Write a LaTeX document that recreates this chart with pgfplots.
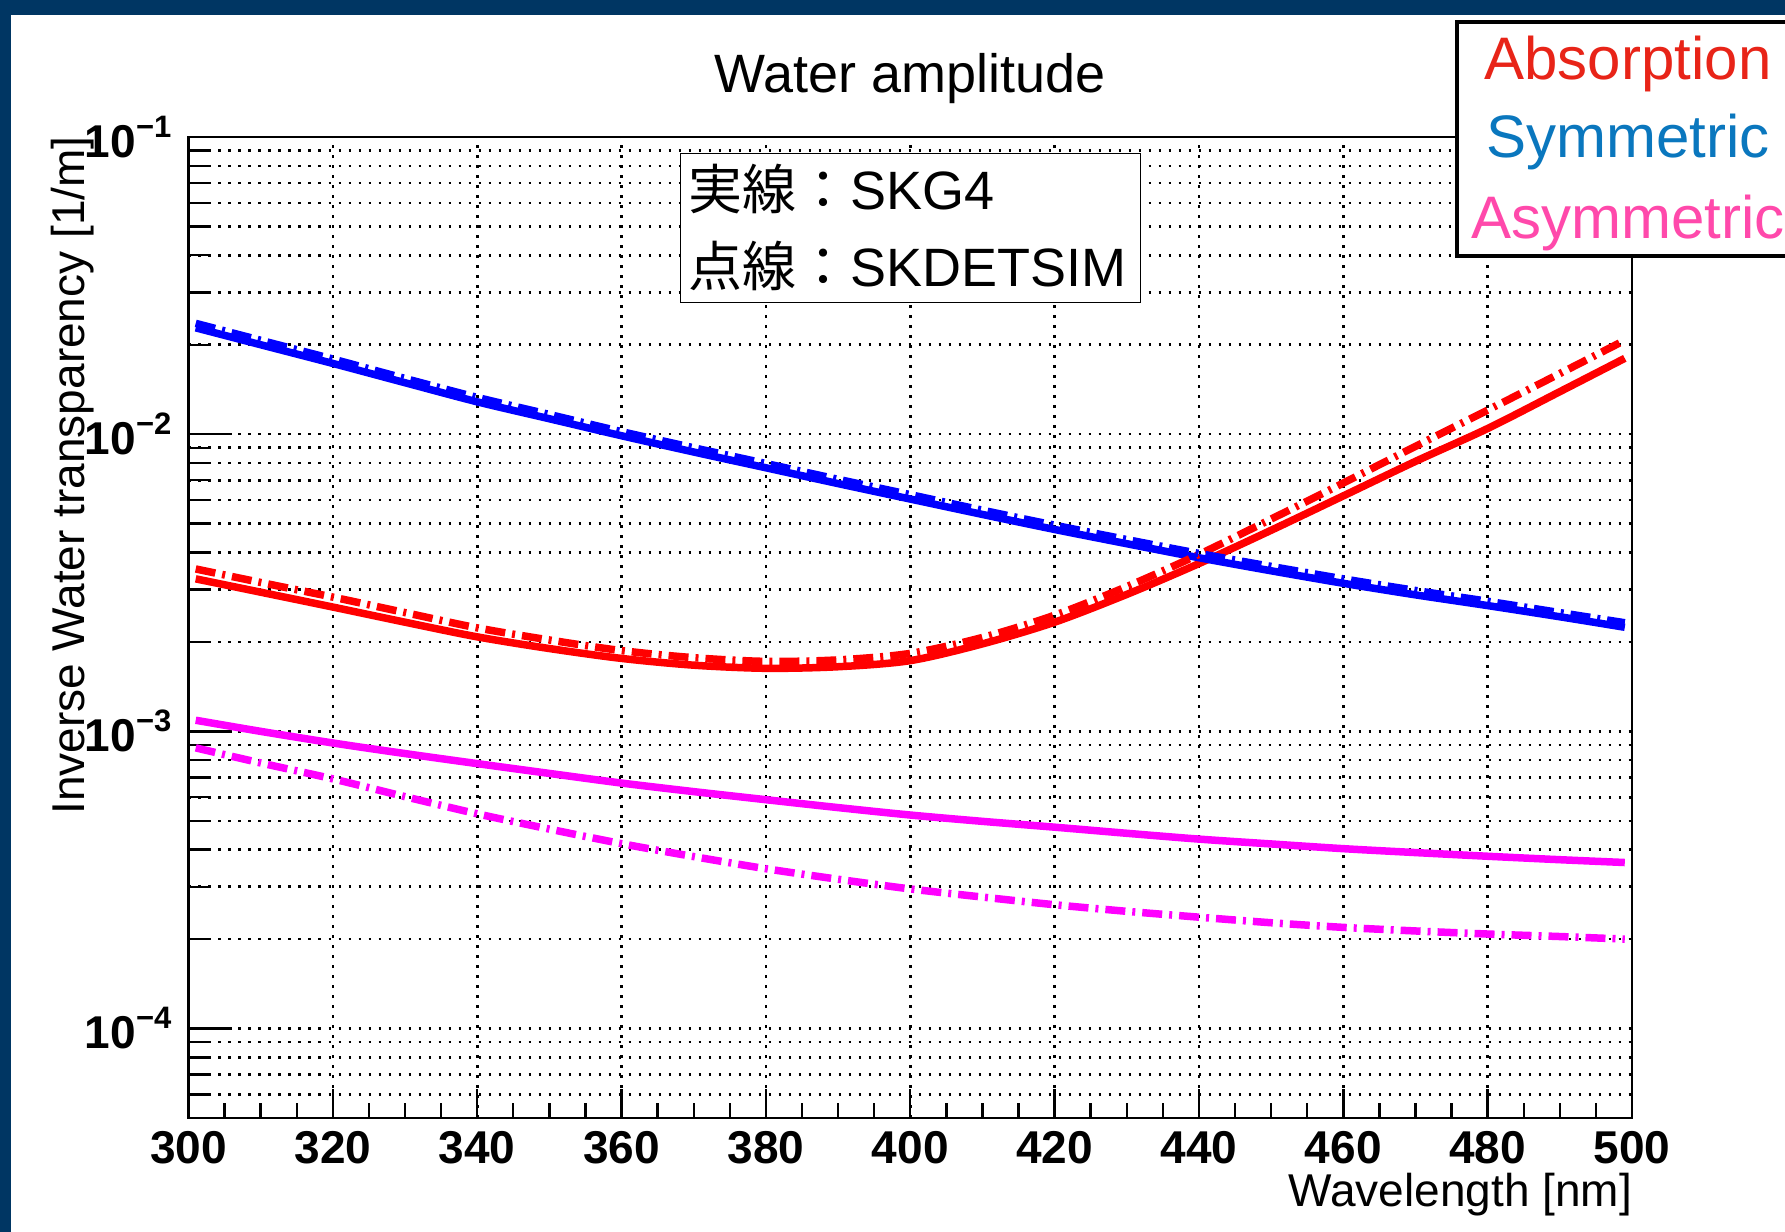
\documentclass[border=0pt]{standalone}
\usepackage{fontspec}
\setmainfont{Liberation Sans}
\newfontfamily\jp{Noto Sans CJK JP}
\usepackage{pgfplots}
\pgfplotsset{compat=1.18}
\usepackage{pgfplotstable}

\definecolor{rootborder}{RGB}{0,54,99}
\definecolor{txtred}{RGB}{232,36,24}
\definecolor{txtblue}{RGB}{10,119,190}
\definecolor{txtpink}{RGB}{255,73,171}
\definecolor{cred}{RGB}{255,0,0}
\definecolor{cblue}{RGB}{0,0,255}
\definecolor{cmag}{RGB}{255,0,255}

\newcommand\sci[1]{\textbf{10}\raisebox{10pt}{\fontsize{15.5pt}{15.5pt}\selectfont\textbf{−#1}}}

% lam: wavelength [nm]; G4 = SKG4 (solid), DS = SKDETSIM (dash-dot)
\pgfplotstableread{
lam absG4 absDS symG4 symDS asyG4 asyDS
301 0.00326 0.00352 0.0228 0.0236 0.00109 0.000880
310 0.00294 0.00317 0.0200 0.0207 0.00100 0.000783
320 0.00262 0.00283 0.0173 0.0179 0.000914 0.000692
330 0.00233 0.00251 0.0149 0.0154 0.000842 0.000603
340 0.00208 0.00223 0.01285 0.0133 0.000779 0.000528
350 0.00190 0.00203 0.01127 0.01165 0.000722 0.000469
360 0.00176 0.00187 0.00988 0.0102 0.000670 0.000419
370 0.00167 0.00177 0.00871 0.0090 0.000627 0.000379
380 0.00163 0.00172 0.00771 0.00797 0.000589 0.000345
390 0.00165 0.00174 0.00682 0.00705 0.000554 0.000318
400 0.00173 0.00183 0.00605 0.00626 0.000523 0.000295
410 0.00197 0.00207 0.00537 0.00555 0.000498 0.000277
420 0.00233 0.00246 0.00478 0.00494 0.000476 0.000261
430 0.00289 0.00307 0.00428 0.00442 0.000454 0.000248
440 0.00367 0.00394 0.00384 0.00397 0.000434 0.000237
450 0.00475 0.00518 0.00347 0.00359 0.000418 0.000227
460 0.00620 0.00685 0.00315 0.00326 0.000403 0.000219
470 0.00810 0.00910 0.00288 0.00298 0.000391 0.000213
480 0.01045 0.01205 0.00265 0.00274 0.000380 0.000208
490 0.0139 0.0160 0.00243 0.00251 0.000370 0.000204
499 0.0180 0.0207 0.00224 0.00232 0.000362 0.000200
}\data

\begin{document}
\begin{tikzpicture}
\fill[white] (0,0) rectangle (892.5pt,616pt);
\begin{axis}[
  at={(94.25pt,57pt)}, anchor=south west,
  scale only axis, width=721.75pt, height=490.5pt,
  ymode=log, xmin=300, xmax=500, ymin=5e-5, ymax=0.1,
  xtick={300,320,...,500}, minor x tick num=3,
  ytick={1e-4,1e-3,1e-2,1e-1},
  yticklabels={\sci{4},\sci{3},\sci{2},\sci{1}},
  minor ytick={6e-5,7e-5,8e-5,9e-5,2e-4,3e-4,4e-4,5e-4,6e-4,7e-4,8e-4,9e-4,2e-3,3e-3,4e-3,5e-3,6e-3,7e-3,8e-3,9e-3,2e-2,3e-2,4e-2,5e-2,6e-2,7e-2,8e-2,9e-2},
  tick align=inside, tick pos=left,
  major tick length=21.5pt, minor tick length=10.5pt,
  xtick style={/pgfplots/major tick length=14.5pt,/pgfplots/minor tick length=7.5pt},
  tick style={black, line width=1.2pt},
  axis line style={line width=1.3pt},
  xmajorgrids=true, ymajorgrids=true, yminorgrids=true,
  major grid style={black, line width=1.3pt, dash pattern=on 1.3pt off 3.7pt},
  minor grid style={black, line width=1.3pt, dash pattern=on 1.3pt off 3.7pt},
  tick label style={font=\fontsize{23pt}{23pt}\selectfont\bfseries},
  /pgf/number format/assume math mode=true,
  xticklabel style={yshift=-3pt},
  yticklabel style={xshift=-5pt},
]
\addplot[cred, line width=3.75pt, smooth] table[x=lam,y=absG4] {\data};
\addplot[cblue, line width=3.75pt, smooth] table[x=lam,y=symG4] {\data};
\addplot[cmag, line width=3.75pt, smooth] table[x=lam,y=asyG4] {\data};
\addplot[cred, line width=3.75pt, smooth, dash pattern=on 10pt off 3.5pt on 1.5pt off 3.5pt] table[x=lam,y=absDS] {\data};
\addplot[cblue, line width=3.75pt, smooth, dash pattern=on 10pt off 3.5pt on 1.5pt off 3.5pt] table[x=lam,y=symDS] {\data};
\addplot[cmag, line width=3.75pt, smooth, dash pattern=on 10pt off 3.5pt on 1.5pt off 3.5pt] table[x=lam,y=asyDS] {\data};
\end{axis}
\begin{scope}[x=0.5pt,y=0.5pt]
% SKG4 / SKDETSIM note
\draw[fill=white, line width=0.75pt] (680.7,929.7) rectangle (1140.7,1078.7);
\node[anchor=base west, inner sep=0pt, font=\fontsize{27pt}{27pt}\selectfont] at (688,1022) {{\jp 実線：}SKG4};
\node[anchor=base west, inner sep=0pt, font=\fontsize{27pt}{27pt}\selectfont] at (688,945.3) {{\jp 点線：}SKDETSIM};
% legend box
\draw[fill=white, line width=2pt] (1457,976) rectangle (1815,1210);
\node[anchor=base, inner sep=0pt, font=\fontsize{30pt}{30pt}\selectfont, text=txtred] at (1628,1152) {Absorption};
\node[anchor=base, inner sep=0pt, font=\fontsize{30pt}{30pt}\selectfont, text=txtblue] at (1628,1074) {Symmetric};
\node[anchor=base, inner sep=0pt, font=\fontsize{30pt}{30pt}\selectfont, text=txtpink] at (1628,993) {Asymmetric};
% titles
\node[anchor=base, inner sep=0pt, font=\fontsize{27pt}{27pt}\selectfont] at (910,1139.7) {Water amplitude};
\node[anchor=base east, inner sep=0pt, font=\fontsize{23pt}{23pt}\selectfont] at (1632.5,25.3) {Wavelength [nm]};
\node[rotate=90, anchor=base east, inner sep=0pt, font=\fontsize{23pt}{23pt}\selectfont] at (84,1096) {Inverse Water transparency [1/m]};
% canvas border
\fill[rootborder] (0,1217) rectangle (1785,1232);
\fill[rootborder] (0,0) rectangle (10.5,1232);
\end{scope}
\pgfresetboundingbox
\useasboundingbox (0,0) rectangle (892.5pt,616pt);
\end{tikzpicture}
\end{document}
